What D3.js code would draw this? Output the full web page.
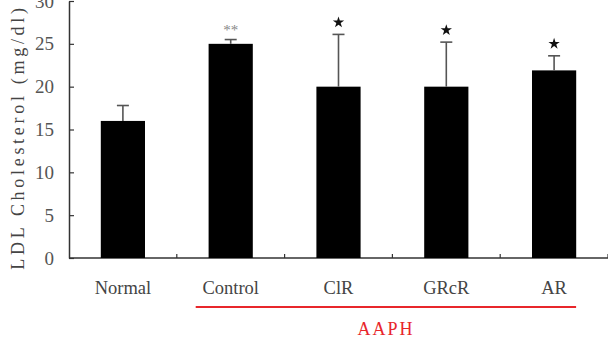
<!DOCTYPE html>
<html>
<head>
<meta charset="utf-8">
<script src="https://cdn.jsdelivr.net/npm/d3@7"></script>
<style>
  body { margin: 0; background: #fff; }
  text { font-family: "Liberation Serif", "DejaVu Serif", serif; }
</style>
</head>
<body>
<div id="chart"></div>
<script>
// values
const groups = ["Normal", "Control", "ClR", "GRcR", "AR"];
const means = [16.0, 25.0, 20.0, 20.0, 21.9];
const errors = [1.8, 0.5, 6.1, 5.2, 1.7];
const marks = ["", "**", "*", "*", "*"];
const yTicks = [0, 5, 10, 15, 20, 25, 30];

const width = 608, height = 340;
const margin = { left: 69, right: 0, top: 1, bottom: 82 };

const svg = d3.select("#chart").append("svg")
    .attr("width", width)
    .attr("height", height);

const x = d3.scaleBand()
    .domain(groups)
    .range([margin.left, width - margin.right])
    .paddingInner(0.59)
    .paddingOuter(0.295);

const y = d3.scaleLinear()
    .domain([0, 30])
    .range([height - margin.bottom, margin.top]);

const axisColor = "#333";

// y axis
const yAxis = svg.append("g")
    .attr("transform", `translate(${margin.left},0)`)
    .call(d3.axisLeft(y).tickValues(yTicks).tickSizeInner(-5).tickSizeOuter(0).tickPadding(15));
yAxis.select(".domain").attr("stroke", axisColor).attr("stroke-width", 1.5);
yAxis.selectAll(".tick line").attr("stroke", axisColor).attr("stroke-width", 1.2);
yAxis.selectAll(".tick text")
    .attr("font-size", 19)
    .attr("fill", "#555")
    .attr("font-family", "Liberation Serif, DejaVu Serif, serif");

// x axis with ticks between the groups
const xBase = y(0);
svg.append("line")
    .attr("x1", margin.left).attr("x2", width)
    .attr("y1", xBase).attr("y2", xBase)
    .attr("stroke", axisColor).attr("stroke-width", 1.5);

const step = x.step();
svg.append("g").selectAll("line")
    .data(groups)
    .join("line")
    .attr("x1", d => x(d) + x.bandwidth() / 2 + step / 2)
    .attr("x2", d => x(d) + x.bandwidth() / 2 + step / 2)
    .attr("y1", xBase)
    .attr("y2", xBase - 4)
    .attr("stroke", axisColor)
    .attr("stroke-width", 1.2);

svg.append("g").selectAll("text")
    .data(groups)
    .join("text")
    .attr("x", d => x(d) + x.bandwidth() / 2)
    .attr("y", xBase + 36)
    .attr("text-anchor", "middle")
    .attr("font-size", 18.5)
    .attr("fill", "#444")
    .text(d => d);

// bars
svg.append("g").selectAll("rect")
    .data(groups)
    .join("rect")
    .attr("x", d => x(d))
    .attr("width", x.bandwidth())
    .attr("y", (d, i) => y(means[i]))
    .attr("height", (d, i) => y(0) - y(means[i]))
    .attr("fill", "#000");

// error bars
const eb = svg.append("g").attr("stroke", "#555").attr("stroke-width", 1.6);
groups.forEach((g, i) => {
    const cx = x(g) + x.bandwidth() / 2;
    eb.append("line")
        .attr("x1", cx).attr("x2", cx)
        .attr("y1", y(means[i])).attr("y2", y(means[i] + errors[i]));
    eb.append("line")
        .attr("x1", cx - 6).attr("x2", cx + 6)
        .attr("y1", y(means[i] + errors[i])).attr("y2", y(means[i] + errors[i]));
});

// significance marks
const star = d3.symbol().type(d3.symbolStar).size(40);
groups.forEach((g, i) => {
    const cx = x(g) + x.bandwidth() / 2;
    const top = y(means[i] + errors[i]);
    if (marks[i] === "*") {
        svg.append("path")
            .attr("d", star())
            .attr("transform", `translate(${cx},${top - 12})`)
            .attr("fill", "#111");
    } else if (marks[i] === "**") {
        svg.append("text")
            .attr("x", cx)
            .attr("y", top - 5)
            .attr("text-anchor", "middle")
            .attr("font-size", 15)
            .attr("fill", "#888")
            .text("**");
    }
});

// y axis title
svg.append("text")
    .attr("transform", `translate(24,137) rotate(-90)`)
    .attr("text-anchor", "middle")
    .attr("font-size", 18)
    .attr("letter-spacing", 3.7)
    .attr("fill", "#444")
    .text("LDL Cholesterol (mg/dl)");

// AAPH bracket
const aaph = groups.slice(1);
const x0 = x(aaph[0]) + x.bandwidth() / 2 - 35;
const x1 = x(aaph[aaph.length - 1]) + x.bandwidth() / 2 + 22;
svg.append("line")
    .attr("x1", x0).attr("x2", x1)
    .attr("y1", xBase + 49).attr("y2", xBase + 49)
    .attr("stroke", "#e8262b")
    .attr("stroke-width", 2);
svg.append("text")
    .attr("x", (x0 + x1) / 2)
    .attr("y", xBase + 77)
    .attr("text-anchor", "middle")
    .attr("font-size", 18)
    .attr("letter-spacing", 2)
    .attr("fill", "#e8262b")
    .text("AAPH");
</script>
</body>
</html>
